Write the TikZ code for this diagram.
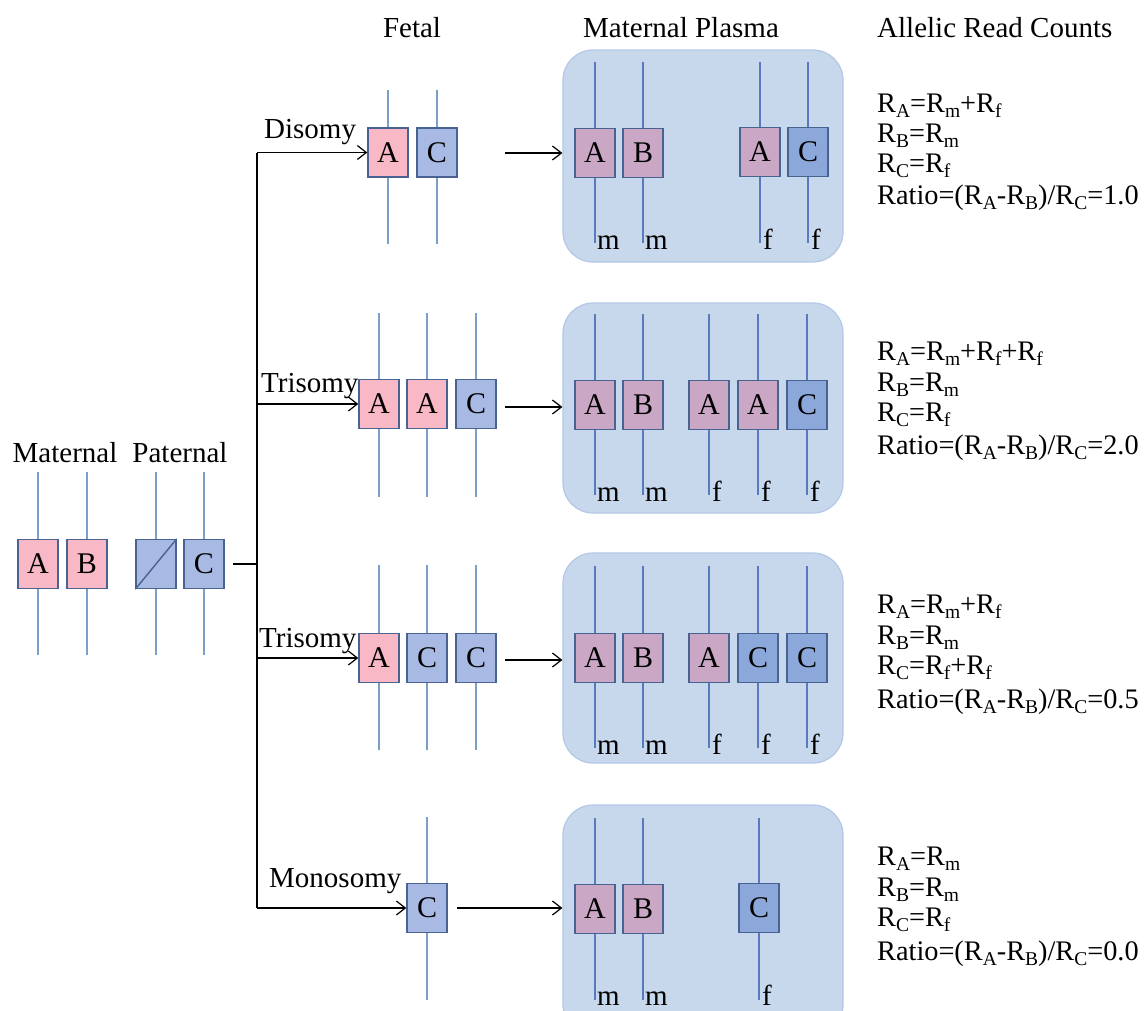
\documentclass[tikz,border=0pt]{standalone}
\usepackage{fontspec}
\setmainfont{Liberation Serif}
\usetikzlibrary{arrows.meta}
\definecolor{pinkF}{RGB}{248,184,198}
\definecolor{blueF}{RGB}{168,185,228}
\definecolor{boxborder}{RGB}{72,98,145}
\definecolor{lineout}{RGB}{122,160,202}
\definecolor{linein}{RGB}{88,122,190}
\definecolor{plasmafill}{RGB}{199,215,236}
\definecolor{plasmaborder}{RGB}{180,200,230}
\definecolor{pinkP}{RGB}{201,167,197}
\definecolor{blueP}{RGB}{140,167,218}
\newcommand{\sbx}[1]{\raisebox{-0.2em}{\fontsize{19.5}{19.5}\selectfont #1}}
% name, x, ytop, ybot, ycenter, linestyle, boxstyle, letter
\newcommand{\chrm}[8]{%
  \coordinate (#1t) at (#2,#3);
  \coordinate (#1b) at (#2,#4);
  \draw[#6] (#1t) -- (#1b);
  \node[#7] (#1) at (#2,#5) {#8};}
\begin{document}
\begin{tikzpicture}[x=1pt,y=-1pt,
  lout/.style={draw=lineout, line width=1.6pt},
  lin/.style={draw=linein, line width=1.5pt},
  gbox/.style={draw=boxborder, line width=1.4pt, minimum width=40pt, minimum height=49pt, inner sep=0pt, font=\fontsize{30}{30}\selectfont},
  fpink/.style={gbox, fill=pinkF},
  fblue/.style={gbox, fill=blueF},
  ppink/.style={gbox, fill=pinkP},
  pblue/.style={gbox, fill=blueP},
  plasma/.style={draw=plasmaborder, fill=plasmafill, line width=1.2pt, rounded corners=30pt, minimum width=280pt, inner sep=0pt},
  lbl/.style={font=\fontsize{29}{29}\selectfont, inner sep=0pt, anchor=base west},
  cnt/.style={font=\fontsize{28.3}{28.3}\selectfont, inner sep=0pt, anchor=base west},
  arr/.style={-{Straight Barb[length=9pt,width=14pt]}, line width=1.2pt},
  tree/.style={line width=1.2pt},
]
\clip (0,0) rectangle (1146,1010);
\fill[white] (0,0) rectangle (1146,1010);

% headers
\node[lbl, anchor=base] (hF) at (412,37) {Fetal};
\node[lbl, anchor=base] (hP) at (681,37) {Maternal Plasma};
\node[lbl, anchor=base west] (hR) at (877,37) {Allelic Read Counts};
\node[lbl, anchor=base] (hM) at (65,462) {Maternal};
\node[lbl, anchor=base] (hPa) at (180,462) {Paternal};

% parents
\chrm{mA}{38}{472}{655}{564}{lout}{fpink}{A}
\chrm{mB}{87}{472}{655}{564}{lout}{fpink}{B}
\chrm{pX}{156}{472}{655}{564}{lout}{fblue}{}
\draw[boxborder, line width=1.4pt] (pX.south west) -- (pX.north east);
\chrm{pC}{204}{472}{655}{564}{lout}{fblue}{C}

% plasma boxes
\node[plasma, minimum height=212pt] (pl1) at (703,156) {};
\node[plasma, minimum height=210pt] (pl2) at (703,408) {};
\node[plasma, minimum height=210pt] (pl3) at (703,658) {};
\node[plasma, minimum height=230pt] (pl4) at (703,920) {};

% fetal row 1
\chrm{fa1}{388}{90}{244}{152.5}{lout}{fpink}{A}
\chrm{fc1}{437}{90}{244}{152.5}{lout}{fblue}{C}
% fetal row 2
\chrm{fa2}{379}{313}{497}{404}{lout}{fpink}{A}
\chrm{fb2}{427}{313}{497}{404}{lout}{fpink}{A}
\chrm{fc2}{476}{313}{497}{404}{lout}{fblue}{C}
% fetal row 3
\chrm{fa3}{379}{565}{750}{658}{lout}{fpink}{A}
\chrm{fb3}{427}{565}{750}{658}{lout}{fblue}{C}
\chrm{fc3}{476}{565}{750}{658}{lout}{fblue}{C}
% fetal row 4
\chrm{fc4}{427}{817}{1000}{908}{lout}{fblue}{C}

% plasma row 1
\chrm{p1a}{595}{62}{243}{153}{lin}{ppink}{A}
\chrm{p1b}{643}{62}{243}{153}{lin}{ppink}{B}
\chrm{p1c}{760}{62}{243}{152}{lin}{ppink}{A}
\chrm{p1d}{808}{62}{243}{152}{lin}{pblue}{C}
% plasma row 2
\chrm{p2a}{595}{314}{495}{405}{lin}{ppink}{A}
\chrm{p2b}{643}{314}{495}{405}{lin}{ppink}{B}
\chrm{p2c}{709}{314}{495}{405}{lin}{ppink}{A}
\chrm{p2d}{758}{314}{495}{405}{lin}{ppink}{A}
\chrm{p2e}{807}{314}{495}{405}{lin}{pblue}{C}
% plasma row 3
\chrm{p3a}{595}{566}{748}{658}{lin}{ppink}{A}
\chrm{p3b}{643}{566}{748}{658}{lin}{ppink}{B}
\chrm{p3c}{709}{566}{748}{658}{lin}{ppink}{A}
\chrm{p3d}{758}{566}{748}{658}{lin}{pblue}{C}
\chrm{p3e}{807}{566}{748}{658}{lin}{pblue}{C}
% plasma row 4
\chrm{p4a}{595}{818}{1000}{909}{lin}{ppink}{A}
\chrm{p4b}{643}{818}{1000}{909}{lin}{ppink}{B}
\chrm{p4c}{759}{818}{1000}{908}{lin}{pblue}{C}

% m / f labels
\node[lbl] (m1a) at (597,249) {m};
\node[lbl] (m1b) at (645,249) {m};
\node[lbl] (f1c) at (763,249) {f};
\node[lbl] (f1d) at (811,249) {f};
\node[lbl] (m2a) at (597,501) {m};
\node[lbl] (m2b) at (645,501) {m};
\node[lbl] (f2c) at (712,501) {f};
\node[lbl] (f2d) at (761,501) {f};
\node[lbl] (f2e) at (810,501) {f};
\node[lbl] (m3a) at (597,754) {m};
\node[lbl] (m3b) at (645,754) {m};
\node[lbl] (f3c) at (712,754) {f};
\node[lbl] (f3d) at (761,754) {f};
\node[lbl] (f3e) at (810,754) {f};
\node[lbl] (m4a) at (597,1005) {m};
\node[lbl] (m4b) at (645,1005) {m};
\node[lbl] (f4c) at (762,1005) {f};

% tree
\coordinate (st) at (233,564);
\coordinate (jn) at (257,564);
\draw[tree] (st) -- (jn);
\draw[tree] (jn |- fa1.west) -- (jn |- fc4.west);
\draw[tree, arr] (jn |- fa1.west) -- (fa1.west);
\draw[tree, arr] (jn |- fa2.west) -- (fa2.west);
\draw[tree, arr] (jn |- fa3.west) -- (fa3.west);
\draw[tree, arr] (jn |- fc4.west) -- (fc4.west);
\node[lbl] (dis) at (264,138) {Disomy};
\node[lbl] (tri1) at (261,392) {Trisomy};
\node[lbl] (tri2) at (259,647) {Trisomy};
\node[lbl] (mono) at (269,887) {Monosomy};

% arrows to plasma
\coordinate (s1) at (505,153);
\coordinate (s2) at (505,407);
\coordinate (s3) at (505,660);
\coordinate (s4) at (457,908);
\draw[arr] (s1) -- (s1 -| pl1.west);
\draw[arr] (s2) -- (s2 -| pl2.west);
\draw[arr] (s3) -- (s3 -| pl3.west);
\draw[arr] (s4) -- (s4 -| pl4.west);

% read counts
\node[cnt] (r1a) at (877,112) {R\sbx{A}=R\sbx{m}+R\sbx{f}};
\node[cnt] (r1b) at (877,142) {R\sbx{B}=R\sbx{m}};
\node[cnt] (r1c) at (877,172) {R\sbx{C}=R\sbx{f}};
\node[cnt] (r1d) at (877,204) {Ratio=(R\sbx{A}-R\sbx{B})/R\sbx{C}=1.0};

\node[cnt] (r2a) at (877,360) {R\sbx{A}=R\sbx{m}+R\sbx{f}+R\sbx{f}};
\node[cnt] (r2b) at (877,391) {R\sbx{B}=R\sbx{m}};
\node[cnt] (r2c) at (877,421) {R\sbx{C}=R\sbx{f}};
\node[cnt] (r2d) at (877,454) {Ratio=(R\sbx{A}-R\sbx{B})/R\sbx{C}=2.0};

\node[cnt] (r3a) at (877,613) {R\sbx{A}=R\sbx{m}+R\sbx{f}};
\node[cnt] (r3b) at (877,644) {R\sbx{B}=R\sbx{m}};
\node[cnt] (r3c) at (877,674) {R\sbx{C}=R\sbx{f}+R\sbx{f}};
\node[cnt] (r3d) at (877,708) {Ratio=(R\sbx{A}-R\sbx{B})/R\sbx{C}=0.5};

\node[cnt] (r4a) at (877,865) {R\sbx{A}=R\sbx{m}};
\node[cnt] (r4b) at (877,896) {R\sbx{B}=R\sbx{m}};
\node[cnt] (r4c) at (877,926) {R\sbx{C}=R\sbx{f}};
\node[cnt] (r4d) at (877,960) {Ratio=(R\sbx{A}-R\sbx{B})/R\sbx{C}=0.0};
\end{tikzpicture}
\end{document}
